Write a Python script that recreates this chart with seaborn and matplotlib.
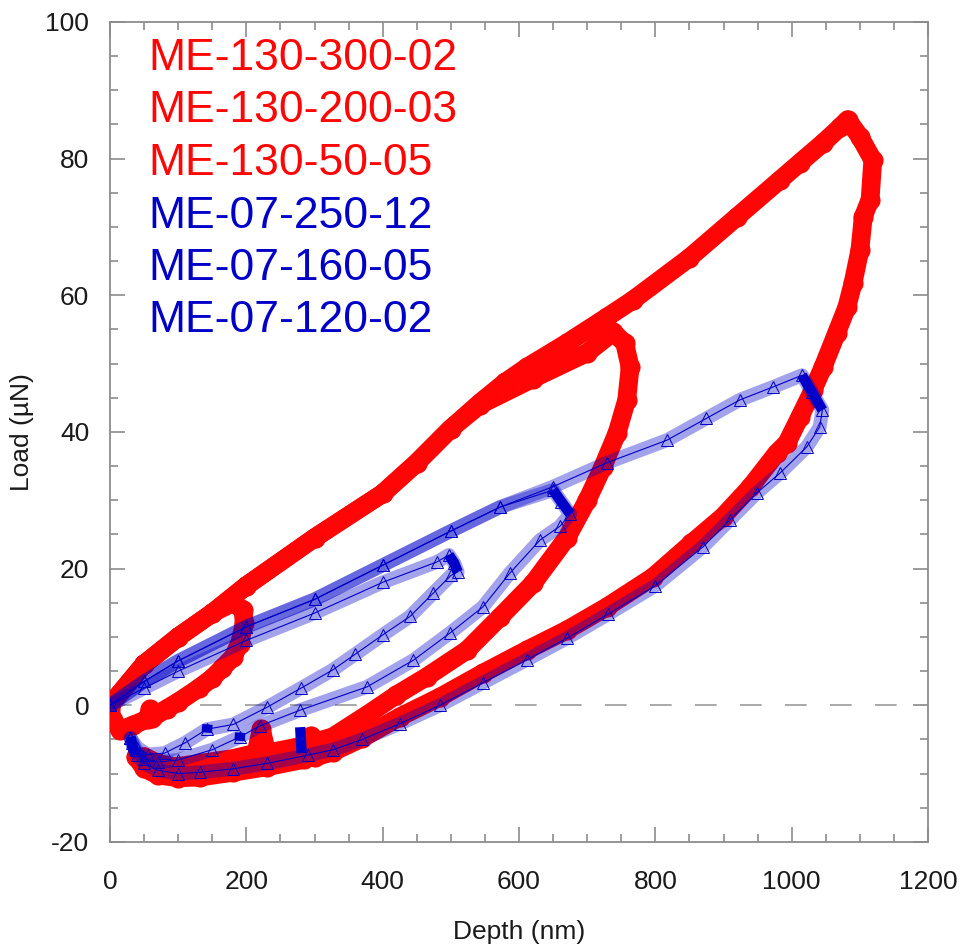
import matplotlib
matplotlib.use("Agg")
import matplotlib.pyplot as plt
import seaborn as sns
import pandas as pd
from matplotlib.ticker import MultipleLocator

sns.set_theme(style="ticks")
plt.rcParams["font.family"] = ["Liberation Sans", "DejaVu Sans"]
plt.rcParams["axes.unicode_minus"] = False

# ---------------- data: load (uN) vs depth (nm) ----------------
series_names = ["ME-130-300-02", "ME-130-200-03", "ME-130-50-05",
                "ME-07-250-12", "ME-07-160-05", "ME-07-120-02"]

# red family (circles)
me130_300_depth = [0, 50, 100, 150, 200, 300, 400, 450, 500, 543, 580, 612, 670, 729, 767,
                   850, 920, 983, 1012, 1046, 1071, 1082, 1100, 1119, 1115, 1105, 1100,
                   1090, 1081, 1066, 1046, 1031, 1012, 993, 978, 939, 899, 853, 797, 729,
                   670, 612, 547, 484, 425, 370, 327, 300, 295, 285, 230, 180, 132, 100,
                   70, 50, 38]
me130_300_load = [0, 6, 10, 13.5, 17.5, 24.5, 31, 35.5, 40.5, 44.3, 47.3, 49.5, 53, 56.8, 59.3,
                  65.5, 71.5, 76.9, 79.4, 82.3, 84.6, 85.7, 83.2, 79.8, 74, 71.5, 66.6,
                  61.8, 58.3, 54.5, 49.5, 46.1, 42.2, 38.4, 36.9, 31.9, 27.6, 23.7, 18.8,
                  14.4, 11.0, 8.1, 4.7, 1.2, -1.7, -4.8, -6.8, -7.6, -4.5, -7.9, -9.0,
                  -9.8, -10.5, -10.6, -10.2, -9.2, -7.5]

me130_200_depth = [0, 50, 100, 150, 200, 300, 400, 450, 500, 543, 620, 700, 738, 755,
                   763, 758, 744, 723, 700, 670, 621, 572, 524, 465, 420, 380, 327, 280,
                   230, 222, 214, 180, 132, 95, 70, 50]
me130_200_load = [0, 6, 10, 13.5, 17.5, 24.5, 31, 35.5, 40.5, 44.0, 47.8, 51.6, 54.6, 53,
                  49.5, 44.7, 39.9, 34.9, 30, 24.5, 17.9, 12.9, 8.1, 4.2, 1.5, -1.2,
                  -4.6, -6, -7, -3.5, -7, -7.8, -8.5, -9, -8.5, -7.5]

me130_50_depth = [0, 50, 100, 150, 180, 195, 197, 190, 180, 165, 150, 130, 100, 83, 62,
                  59, 55, 34, 15, 4, 0]
me130_50_load = [0, 6, 10, 13.5, 15, 14, 12, 9, 7, 5.5, 4, 2.5, 0.5, -0.5, -1.8, -0.6,
                 -2, -2.9, -3.6, -2.2, -0.5]

# blue family (open triangles)
me07_250_depth = [0, 50, 100, 200, 300, 400, 500, 572, 650, 729, 817, 875, 924, 973,
                  1015, 1030, 1045, 1041, 1022, 983, 949, 909, 870, 800, 730, 670, 612,
                  547, 484, 425, 370, 327, 290, 230, 180, 132, 100, 70, 50, 40, 32]
me07_250_load = [0, 3.5, 6.5, 11.5, 15.5, 20.5, 25.5, 29, 32, 35.5, 38.8, 42, 44.7, 46.6,
                 48.3, 45.8, 43.2, 40.7, 37.8, 34, 31.1, 27.1, 23.2, 17.5, 13.3, 9.8,
                 6.7, 3.3, 0, -2.7, -5, -6.5, -7.3, -8.5, -9.3, -9.8, -10, -9.5, -8.5,
                 -7.3, -5.5]

me07_160_depth = [0, 50, 100, 200, 300, 400, 500, 572, 650, 662, 675, 660, 631, 587,
                  547, 499, 445, 377, 279, 220, 191, 150, 100, 70, 50, 38, 30]
me07_160_load = [0, 3.5, 6.5, 11.5, 15.5, 20.5, 25.5, 29, 31.5, 29.8, 28, 26.2, 24.2, 19.4,
                 14.4, 10.6, 6.6, 2.7, -0.7, -3, -4.6, -6.5, -8, -8.3, -7.8, -6.5, -4.8]

me07_120_depth = [0, 50, 100, 200, 300, 400, 480, 497, 505, 510, 500, 474, 440, 400,
                  360, 327, 280, 230, 181, 142, 110, 80, 55, 40, 30]
me07_120_load = [0, 2.5, 5, 9.5, 13.5, 18, 21, 22, 20.8, 19.5, 19, 16.4, 13, 10.3,
                 7.5, 5.2, 2.5, -0.3, -2.8, -3.5, -5.5, -7, -7.2, -6.2, -4.8]

# dense hold segments of the blue tests
hold_depth = [[1015, 1030, 1045], [650, 662, 675], [497, 505, 510],
              [279, 280, 281], [143, 142], [191, 190], [36, 30]]
hold_load = [[48.3, 45.8, 43.2], [31.5, 29.8, 28], [22, 20.8, 19.5],
             [-3.2, -5.0, -7.0], [-2.8, -4.0], [-4.0, -5.2], [-7.3, -4.6]]

red = "#ff0505"
blue = "#0000c8"

# ---------------- figure ----------------
fig = plt.figure(figsize=(9.6, 9.47), dpi=100)
ax = fig.add_axes([0.1146, 0.1109, 0.8521, 0.8659])

ax.axhline(0, color="#9a9a9a", lw=1.2, dashes=(13, 14), zorder=1)

red_sets = [(me130_300_depth, me130_300_load), (me130_200_depth, me130_200_load),
            (me130_50_depth, me130_50_load)]
for d, l in red_sets:
    df = pd.DataFrame({"depth": d, "load": l})
    sns.lineplot(data=df, x="depth", y="load", sort=False, estimator=None, ax=ax,
                 color=red, lw=13.5, solid_capstyle="round", solid_joinstyle="round",
                 marker="o", markersize=14.5, markeredgewidth=0, zorder=3)

blue_sets = [(me07_250_depth, me07_250_load), (me07_160_depth, me07_160_load),
             (me07_120_depth, me07_120_load)]
for d, l in blue_sets:
    df = pd.DataFrame({"depth": d, "load": l})
    sns.lineplot(data=df, x="depth", y="load", sort=False, estimator=None, ax=ax,
                 color=blue, lw=10, alpha=0.36, solid_capstyle="round",
                 solid_joinstyle="round", zorder=4)
    sns.lineplot(data=df, x="depth", y="load", sort=False, estimator=None, ax=ax,
                 color=blue, lw=0.8, marker="^", markersize=9, markerfacecolor="none",
                 markeredgecolor=blue, markeredgewidth=0.7, zorder=5)

for d, l in zip(hold_depth, hold_load):
    df = pd.DataFrame({"depth": d, "load": l})
    sns.lineplot(data=df, x="depth", y="load", sort=False, estimator=None, ax=ax,
                 color=blue, lw=7.5, solid_capstyle="butt", zorder=6)

# series names
name_colors = [red, red, red, blue, blue, blue]
name_y = [93.0, 85.3, 77.6, 69.9, 62.3, 54.6]
for name, c, yy in zip(series_names, name_colors, name_y):
    ax.text(56, yy, name, color=c, fontsize=32, va="baseline", ha="left", zorder=7)

# ---------------- axes styling ----------------
ax.set_xlim(0, 1200)
ax.set_ylim(-20, 100)
ax.xaxis.set_major_locator(MultipleLocator(200))
ax.xaxis.set_minor_locator(MultipleLocator(50))
ax.yaxis.set_major_locator(MultipleLocator(20))
ax.yaxis.set_minor_locator(MultipleLocator(5))
ax.tick_params(which="both", direction="in", top=True, right=True,
               color="#8c8c8c", width=1.2)
ax.tick_params(which="major", length=11, labelsize=19, labelcolor="#1a1a1a")
ax.tick_params(which="minor", length=6)
ax.tick_params(axis="x", which="major", pad=20)
ax.tick_params(axis="y", which="major", pad=15)
for s in ax.spines.values():
    s.set_color("#8c8c8c")
    s.set_linewidth(1.3)

ax.set_xlabel("Depth (nm)", fontsize=19, color="#1a1a1a")
ax.set_ylabel("Load (µN)", fontsize=19, color="#1a1a1a")
ax.xaxis.set_label_coords(0.5, -0.095)
ax.yaxis.set_label_coords(-0.093, 0.5)
ax.grid(False)

fig.savefig("out.png", dpi=100, facecolor="white")
